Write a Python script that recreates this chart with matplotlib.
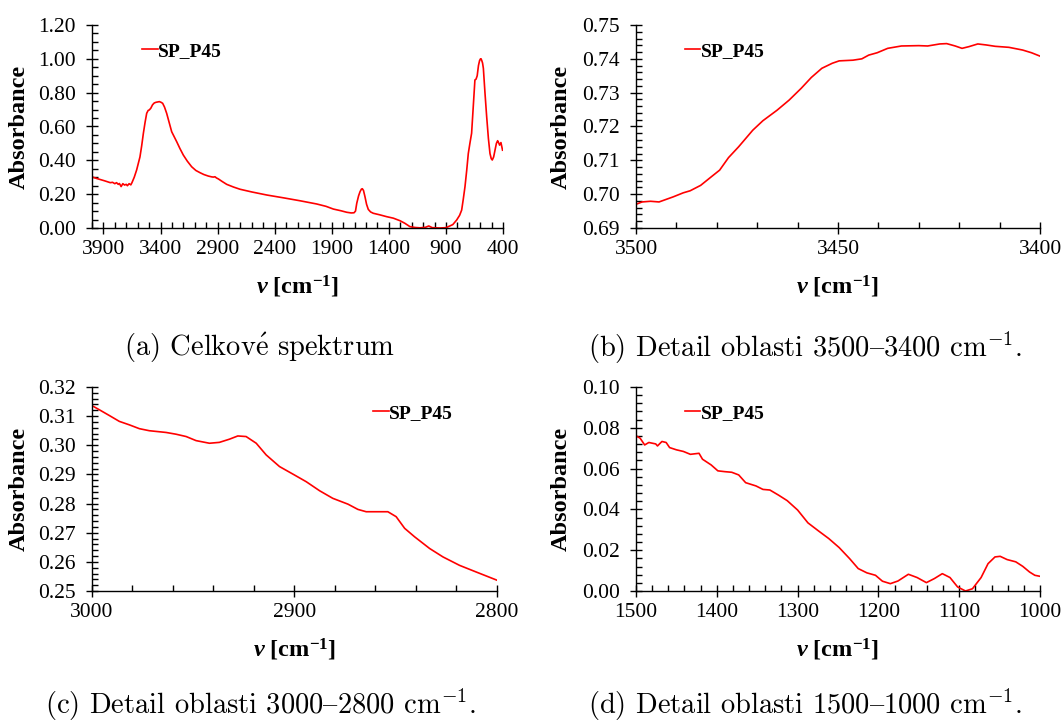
import matplotlib
matplotlib.use("Agg")
import matplotlib.pyplot as plt
from matplotlib.ticker import MultipleLocator, FormatStrFormatter

# (a) full spectrum
wn_full = [4000, 3960, 3920, 3890, 3860, 3840, 3820, 3800, 3785, 3770, 3760, 3745,
           3730, 3715, 3700, 3690, 3675, 3660, 3650, 3630, 3609, 3595, 3580, 3565,
           3550, 3535, 3521, 3508, 3498, 3485, 3470, 3455, 3440, 3425, 3410, 3395,
           3381, 3365, 3346, 3325, 3302, 3280, 3258, 3230, 3200, 3165, 3127, 3090,
           3054, 3020, 2981, 2950, 2935, 2923, 2910, 2893, 2860, 2820, 2760, 2703,
           2600, 2469, 2320, 2178, 2032, 1950, 1886, 1820, 1769, 1730, 1705, 1692,
           1681, 1665, 1652, 1640, 1632, 1622, 1609, 1595, 1580, 1560, 1536, 1480,
           1419, 1360, 1302, 1260, 1215, 1170, 1127, 1080, 1050, 1020, 952, 900,
           879, 840, 806, 780, 762, 748, 733, 718, 704, 690, 675, 660,
           646, 636, 626, 615, 605, 597, 592, 586, 579, 572, 558, 543,
           528, 514, 503, 494, 482, 470, 458, 447, 440, 435, 430, 426, 418, 410, 404]
abs_full = [0.302, 0.293, 0.285, 0.279, 0.272, 0.268, 0.270, 0.262, 0.268, 0.258, 0.263, 0.245,
            0.262, 0.254, 0.258, 0.250, 0.262, 0.255, 0.268, 0.300, 0.343, 0.380, 0.420, 0.485,
            0.560, 0.625, 0.678, 0.695, 0.698, 0.708, 0.728, 0.739, 0.743, 0.745, 0.747, 0.743,
            0.737, 0.715, 0.678, 0.625, 0.569, 0.540, 0.510, 0.470, 0.431, 0.395, 0.362, 0.340,
            0.327, 0.316, 0.307, 0.302, 0.301, 0.303, 0.296, 0.290, 0.275, 0.258, 0.242, 0.229,
            0.213, 0.195, 0.178, 0.161, 0.142, 0.128, 0.112, 0.102, 0.093, 0.089, 0.090, 0.100,
            0.146, 0.190, 0.215, 0.230, 0.232, 0.222, 0.185, 0.140, 0.110, 0.095, 0.087, 0.078,
            0.067, 0.058, 0.043, 0.028, 0.008, 0.003, 0.001, 0.004, 0.012, 0.002, 0.000, 0.002,
            0.008, 0.020, 0.047, 0.075, 0.106, 0.170, 0.244, 0.340, 0.440, 0.500, 0.560, 0.720,
            0.875, 0.880, 0.900, 0.960, 0.990, 1.000, 1.000, 0.990, 0.975, 0.944, 0.800, 0.658,
            0.530, 0.440, 0.410, 0.402, 0.420, 0.461, 0.500, 0.516, 0.505, 0.500, 0.490, 0.495, 0.505, 0.480, 0.460]

# (b) detail 3500-3400
wn_b = [3500, 3498.5, 3496.4, 3494.3, 3490.8, 3488.3, 3486.6, 3484, 3481.4, 3479.3,
        3477.1, 3474.6, 3471.1, 3468.6, 3465.1, 3462.1, 3459.1, 3456.6, 3454, 3451.4,
        3449.7, 3446.3, 3444.1, 3442.4, 3440.3, 3437.7, 3434.3, 3430, 3427.8, 3424.8,
        3423.1, 3421, 3419.3, 3417.6, 3415.4, 3413.3, 3411.1, 3407.7, 3404.3, 3402.1, 3400]
abs_b = [0.6970, 0.6977, 0.6979, 0.6977, 0.6992, 0.7004, 0.7010, 0.7026, 0.7051, 0.7071,
         0.7108, 0.7140, 0.7189, 0.7217, 0.7248, 0.7278, 0.7313, 0.7345, 0.7372, 0.7387,
         0.7394, 0.7396, 0.7400, 0.7411, 0.7418, 0.7431, 0.7438, 0.7439, 0.7438, 0.7444,
         0.7445, 0.7438, 0.7431, 0.7436, 0.7444, 0.7441, 0.7437, 0.7434, 0.7426, 0.7418, 0.7408]

# (c) detail 3000-2800
wn_c = [3000, 2996.4, 2991.4, 2986.5, 2981.5, 2976.6, 2971.7, 2963.4, 2958.5, 2953.5,
        2948.6, 2942, 2937.1, 2932.1, 2928, 2923.9, 2918.9, 2914, 2907.4, 2900,
        2894.2, 2887.6, 2881.1, 2873.6, 2868.7, 2864.6, 2858, 2853.9, 2849.8, 2845.6,
        2840.7, 2833.3, 2826.7, 2818.5, 2810.2, 2800]
abs_c = [0.3136, 0.3122, 0.3102, 0.3082, 0.3070, 0.3057, 0.3050, 0.3044, 0.3038, 0.3030,
         0.3016, 0.3007, 0.3010, 0.3021, 0.3032, 0.3030, 0.3007, 0.2967, 0.2927, 0.2898,
         0.2875, 0.2844, 0.2818, 0.2798, 0.2780, 0.2772, 0.2772, 0.2772, 0.2755, 0.2715,
         0.2686, 0.2646, 0.2617, 0.2588, 0.2565, 0.2537]

# (d) detail 1500-1000
wn_d = [1500, 1494.9, 1489.3, 1484.1, 1475.6, 1473.4, 1467.9, 1462.7, 1458.4, 1449.9,
        1441.3, 1432.7, 1422, 1417.7, 1407, 1398.7, 1390, 1381.5, 1372.9, 1364.3,
        1351.5, 1342.9, 1334.3, 1323.6, 1312.9, 1300, 1287.2, 1274.3, 1261.4, 1248.6,
        1235.7, 1225, 1214.3, 1203.6, 1195, 1185.2, 1175.8, 1162.9, 1152.1, 1140.6,
        1130.7, 1120.9, 1111.4, 1102, 1092.2, 1083.6, 1072.9, 1064.3, 1055.7, 1049.3,
        1040.7, 1030, 1021.4, 1012.9, 1006.4, 1000]
abs_d = [0.0761, 0.0749, 0.0716, 0.0728, 0.0721, 0.0711, 0.0733, 0.0728, 0.0703, 0.0692,
         0.0684, 0.0670, 0.0675, 0.0646, 0.0618, 0.0589, 0.0585, 0.0582, 0.0569, 0.0531,
         0.0515, 0.0498, 0.0495, 0.0470, 0.0443, 0.0397, 0.0334, 0.0295, 0.0257, 0.0213,
         0.0159, 0.0110, 0.0089, 0.0077, 0.0048, 0.0036, 0.0049, 0.0082, 0.0066, 0.0041,
         0.0061, 0.0085, 0.0066, 0.0020, 0.0000, 0.0011, 0.0066, 0.0134, 0.0167, 0.0170,
         0.0154, 0.0143, 0.0121, 0.0093, 0.0077, 0.0072]

# en dash sits at '{' in the TeX OT1 layout of cmr10
captions = [r"(a) Celkov$\acute{\mathrm{e}}$ spektrum",
            "(b) Detail oblasti 3500{3400 cm$^{-1}$.",
            "(c) Detail oblasti 3000{2800 cm$^{-1}$.",
            "(d) Detail oblasti 1500{1000 cm$^{-1}$."]

plt.rcParams["font.family"] = "Liberation Serif"
plt.rcParams["mathtext.fontset"] = "custom"
plt.rcParams["mathtext.rm"] = "Liberation Serif"
plt.rcParams["mathtext.it"] = "Liberation Serif:italic"
plt.rcParams["mathtext.bf"] = "Liberation Serif:bold"
plt.rcParams["mathtext.bfit"] = "Liberation Serif:italic:bold"

fig = plt.figure(figsize=(10.64, 7.23), dpi=100)

W, H = 1064, 723


def make_axes(left, right, top, bottom):
    return fig.add_axes([left / W, 1 - bottom / H, (right - left) / W, (bottom - top) / H])


def style(ax, xlim, ylim, xmaj, xmin, ymaj, ymin, leg_xy, ylab_x):
    ax.set_xlim(*xlim)
    ax.set_ylim(*ylim)
    ax.xaxis.set_major_locator(MultipleLocator(xmaj))
    ax.xaxis.set_minor_locator(MultipleLocator(xmin))
    ax.yaxis.set_major_locator(MultipleLocator(ymaj))
    ax.yaxis.set_minor_locator(MultipleLocator(ymin))
    ax.xaxis.set_major_formatter(FormatStrFormatter("%d"))
    ax.yaxis.set_major_formatter(FormatStrFormatter("%.2f"))
    for s in ["top", "right"]:
        ax.spines[s].set_visible(False)
    for s in ["left", "bottom"]:
        ax.spines[s].set_linewidth(1.0)
    ax.tick_params(which="major", direction="inout", length=9, width=1.0,
                   labelsize=15.5, pad=4)
    ax.tick_params(axis="y", which="major", pad=7)
    ax.tick_params(which="minor", direction="in", length=4, width=1.0)
    ax.set_ylabel("Absorbance", fontsize=17.5, fontweight="bold")
    ax.yaxis.set_label_coords(ylab_x, 0.5)
    ax.set_xlabel(r"$\mathbfit{\nu}$ $\mathbf{[cm^{-1}]}$", fontsize=17.5)
    ax.xaxis.set_label_coords(0.5, -0.225)
    ax.legend(loc="center left", bbox_to_anchor=leg_xy, frameon=False,
              prop={"weight": "bold", "size": 14}, handlelength=0.8,
              handletextpad=0.0, borderpad=0, borderaxespad=0)


ax_a = make_axes(92, 503, 25, 228)
ax_a.plot(wn_full, abs_full, color="#ff0000", lw=1.2, label="SP_P45")
style(ax_a, (4000, 400), (0, 1.2), 500, 100, 0.2, 0.05, (0.122, 0.872), -0.151)
ax_a.set_xticks([3900, 3400, 2900, 2400, 1900, 1400, 900, 400])

ax_b = make_axes(636, 1040, 25, 228)
ax_b.plot(wn_b, abs_b, color="#ff0000", lw=1.2, label="SP_P45")
style(ax_b, (3500, 3400), (0.69, 0.75), 50, 10, 0.01, 0.002, (0.121, 0.872), -0.158)

ax_c = make_axes(92, 497, 387, 591)
ax_c.plot(wn_c, abs_c, color="#ff0000", lw=1.2, label="SP_P45")
style(ax_c, (3000, 2800), (0.25, 0.32), 100, 20, 0.01, 0.002, (0.694, 0.873), -0.153)

ax_d = make_axes(636, 1040, 387, 591)
ax_d.plot(wn_d, abs_d, color="#ff0000", lw=1.2, label="SP_P45")
style(ax_d, (1500, 1000), (0, 0.10), 100, 20, 0.02, 0.004, (0.121, 0.873), -0.158)

cap_pos = [(260, 348), (805, 348), (260, 705), (805, 705)]
for txt, (cx, cy) in zip(captions, cap_pos):
    fig.text(cx / W, 1 - cy / H, txt, ha="center", va="center", fontsize=20.5,
             family=["cmr10", "DejaVu Serif"], math_fontfamily="cm")

fig.savefig("out.png", dpi=100)
